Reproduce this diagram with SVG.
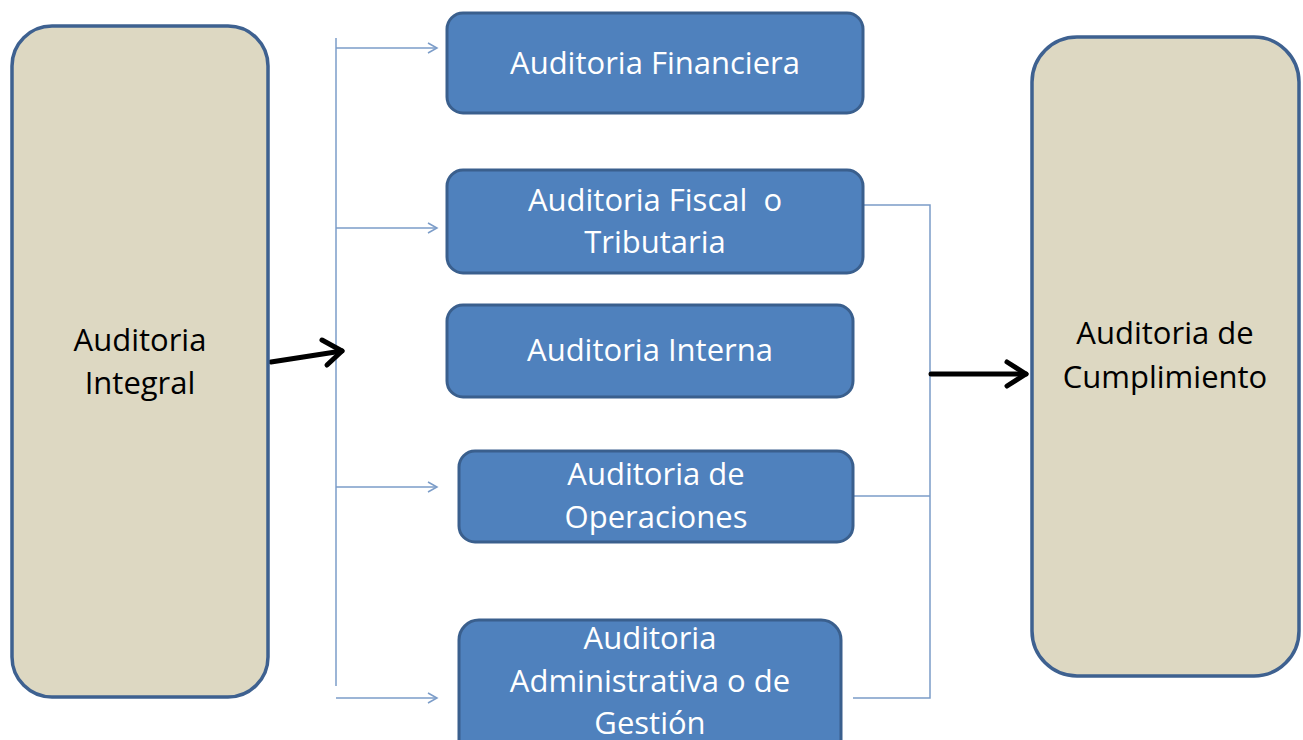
<svg xmlns="http://www.w3.org/2000/svg" width="1303" height="740" viewBox="0 0 1303 740">
<style>
.side{fill:#ddd8c2;stroke:#3e6190;stroke-width:3.5}
.box{fill:#4f81bd;stroke:#3a5f8d;stroke-width:3}
.wt{font-family:"Open Sans","Liberation Sans",sans-serif;font-size:31px;fill:#ffffff;text-anchor:middle}
.bt{font-family:"Open Sans","Liberation Sans",sans-serif;font-size:31px;fill:#000000;text-anchor:middle}
.thin{fill:none;stroke:#7b9cc8;stroke-width:1.5}
.thick{fill:none;stroke:#000000;stroke-width:5;stroke-linecap:round;stroke-linejoin:round}
</style>
<defs>
<marker id="open" markerWidth="12" markerHeight="12" refX="10" refY="6" orient="auto" markerUnits="userSpaceOnUse">
<path d="M1,1 L10,6 L1,11" fill="none" stroke="#7b9cc8" stroke-width="1.5"/>
</marker>
</defs>
<rect width="1303" height="740" fill="#ffffff"/>
<g id="connectors">
<path class="thin" d="M336,38 V686"/>
<path class="thin" d="M336,48 H437" marker-end="url(#open)"/>
<path class="thin" d="M336,228 H437" marker-end="url(#open)"/>
<path class="thin" d="M336,487 H437" marker-end="url(#open)"/>
<path class="thin" d="M336,698 H437" marker-end="url(#open)"/>
<path class="thin" d="M863,205 H930 V698 H853"/>
<path class="thin" d="M853,496 H930"/>
<path class="thick" d="M271,362 L342,351"/>
<path class="thick" d="M322,340 L342,351 L327,365"/>
<path class="thick" d="M931,374 H1026"/>
<path class="thick" d="M1007,362 L1026,374 L1007,386"/>
</g>
<g id="n-integral">
<rect class="side" x="12" y="26" width="256" height="671" rx="40"/>
<text class="bt" x="140" y="351">Auditoria</text>
<text class="bt" x="140" y="394">Integral</text>
</g>
<g id="n-cumplimiento">
<rect class="side" x="1032" y="37" width="267" height="639" rx="45"/>
<text class="bt" x="1165" y="344">Auditoria de</text>
<text class="bt" x="1165" y="388">Cumplimiento</text>
</g>
<g id="n-financiera">
<rect class="box" x="447" y="13" width="416" height="100" rx="16"/>
<text class="wt" x="655" y="74">Auditoria Financiera</text>
</g>
<g id="n-fiscal">
<rect class="box" x="447" y="170" width="416" height="103" rx="16"/>
<text class="wt" x="655" y="211" style="white-space:pre">Auditoria Fiscal  o</text>
<text class="wt" x="655" y="253">Tributaria</text>
</g>
<g id="n-interna">
<rect class="box" x="447" y="305" width="406" height="92" rx="16"/>
<text class="wt" x="650" y="361">Auditoria Interna</text>
</g>
<g id="n-operaciones">
<rect class="box" x="459" y="451" width="394" height="91" rx="16"/>
<text class="wt" x="656" y="485">Auditoria de</text>
<text class="wt" x="656" y="528">Operaciones</text>
</g>
<g id="n-administrativa">
<rect class="box" x="459" y="620" width="382" height="140" rx="20"/>
<text class="wt" x="650" y="649">Auditoria</text>
<text class="wt" x="650" y="692">Administrativa o de</text>
<text class="wt" x="650" y="734">Gestión</text>
</g>
</svg>
